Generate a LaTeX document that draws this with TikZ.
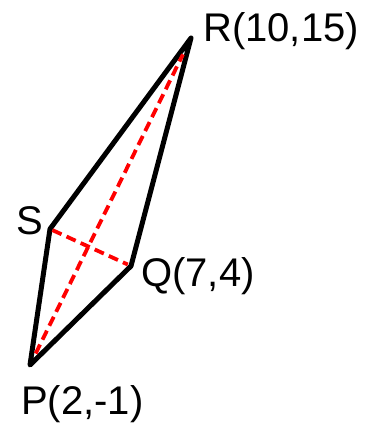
\documentclass[tikz,border=0pt]{standalone}
\usepackage{fontspec}
\setmainfont{Liberation Sans}
\usetikzlibrary{calc}
\begin{document}
\begin{tikzpicture}[x=1pt,y=-1pt,
  edge/.style={line width=5pt,line join=round,line cap=round},
  diag/.style={red,line width=3.8pt,dash pattern=on 10pt off 5.5pt},
  lab/.style={font=\fontsize{40}{42}\selectfont,anchor=base west,inner sep=0pt}]
\useasboundingbox (0,0) rectangle (370,425);
\coordinate (R) at (191,38);
\coordinate (S) at (50,229);
\coordinate (Q) at (131,266);
\coordinate (P) at (30,365);
\draw[edge] (P) -- (S) -- (R) -- (Q) -- cycle;
\draw[diag] ($(P)!0.035!(R)$) -- ($(R)!0.05!(P)$);
\draw[diag] ($(S)!0.03!(Q)$) -- ($(Q)!0.04!(S)$);
\node[lab] (Rl) at (203,42) {R(10,15)};
\node[lab] (Sl) at (16,234) {S};
\node[lab] (Ql) at (141,286) {Q(7,4)};
\node[lab] (Pl) at (21,414) {P(2,-1)};
\end{tikzpicture}
\end{document}
